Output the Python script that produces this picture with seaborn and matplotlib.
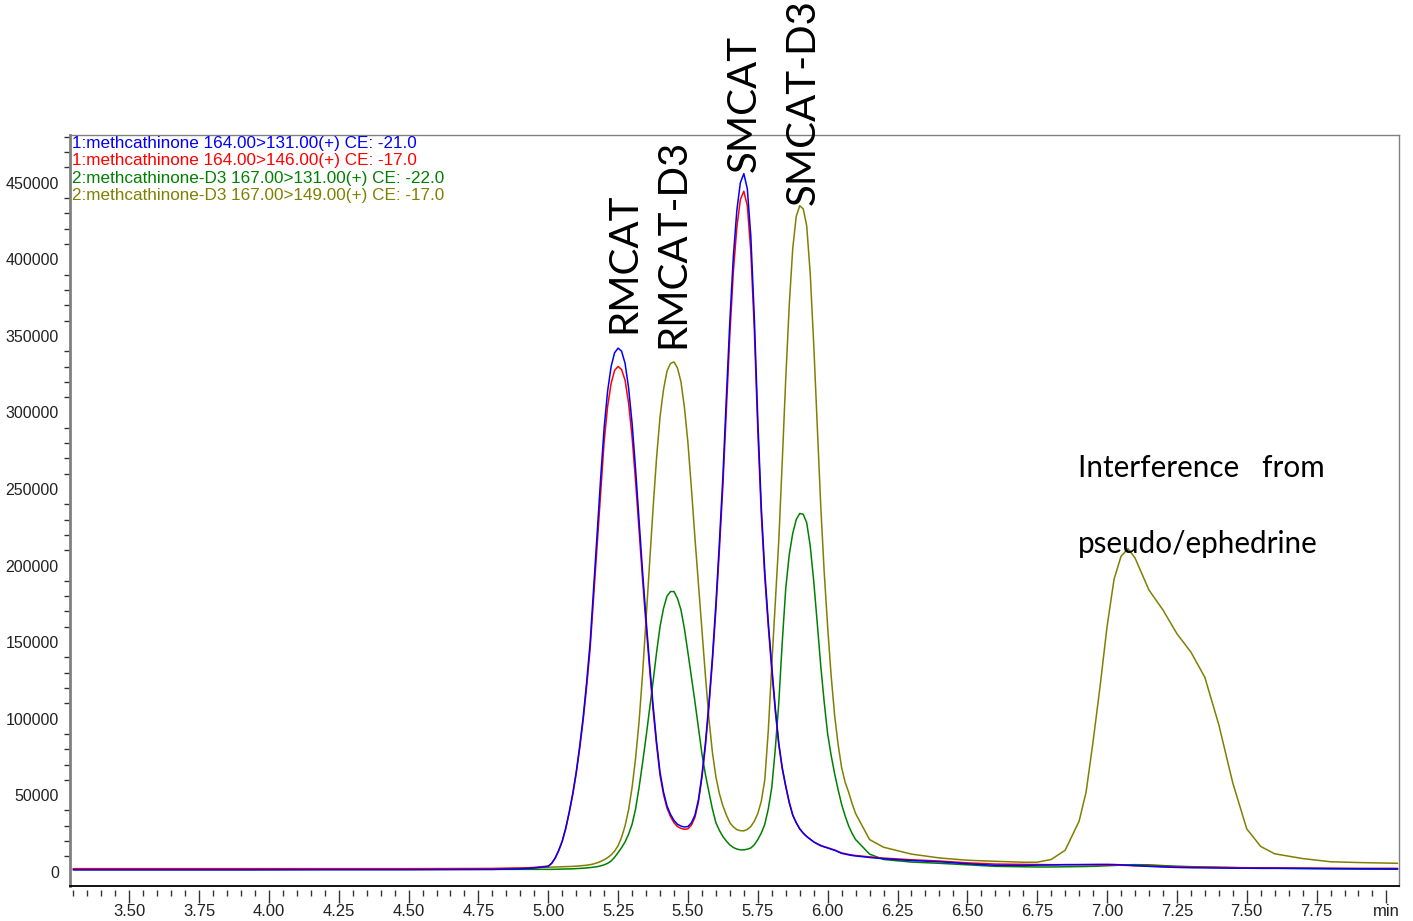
import numpy as np
import pandas as pd
import matplotlib
matplotlib.use('Agg')
import matplotlib.pyplot as plt
import seaborn as sns
from matplotlib.ticker import MultipleLocator, FuncFormatter

# retention time grid (min)
rt = [3.30, 3.60, 3.90, 4.20, 4.50, 4.80, 4.90, 4.95,
      5.0000, 5.0125, 5.0250, 5.0375, 5.0500, 5.0625, 5.0750, 5.0875,
      5.1000, 5.1125, 5.1250, 5.1375, 5.1500, 5.1625, 5.1750, 5.1875,
      5.2000, 5.2125, 5.2250, 5.2375, 5.2500, 5.2625, 5.2750, 5.2875,
      5.3000, 5.3125, 5.3250, 5.3375, 5.3500, 5.3625, 5.3750, 5.3875,
      5.4000, 5.4125, 5.4250, 5.4375, 5.4500, 5.4625, 5.4750, 5.4875,
      5.5000, 5.5125, 5.5250, 5.5375, 5.5500, 5.5625, 5.5750, 5.5875,
      5.6000, 5.6125, 5.6250, 5.6375, 5.6500, 5.6625, 5.6750, 5.6875,
      5.7000, 5.7125, 5.7250, 5.7375, 5.7500, 5.7625, 5.7750, 5.7875,
      5.8000, 5.8125, 5.8250, 5.8375, 5.8500, 5.8625, 5.8750, 5.8875,
      5.9000, 5.9125, 5.9250, 5.9375, 5.9500, 5.9625, 5.9750, 5.9875,
      6.0000, 6.0125, 6.0250, 6.0375, 6.0500, 6.0625, 6.0750, 6.0875,
      6.1000,
      6.150, 6.200, 6.300, 6.400, 6.500, 6.600, 6.700, 6.750, 6.800, 6.850,
      6.900, 6.925, 6.950, 6.975, 7.000, 7.025, 7.050, 7.075, 7.100, 7.150,
      7.200, 7.250, 7.300, 7.350, 7.400, 7.450, 7.500, 7.550, 7.600, 7.700,
      7.800, 7.900, 8.040]

# 1:methcathinone 164.00>131.00
mc_131 = [1200, 1200, 1200, 1300, 1300, 1500, 1900, 2400,
          3500, 5500, 9000, 14000, 20000, 28500, 39000, 51000,
          65000, 82000, 101000, 124000, 150000, 185000, 221000, 257000,
          290000, 314000, 330000, 339000, 342000, 340000, 332000, 316000,
          293000, 263000, 229000, 196000, 165000, 136000, 109000, 85000,
          65000, 52000, 43000, 37500, 33500, 31000, 29800, 29200,
          29500, 32000, 37000, 47000, 63000, 84000, 110000, 140000,
          175000, 215000, 258000, 310000, 360000, 402000, 432000, 450000,
          456000, 446000, 415000, 362000, 295000, 238000, 196000, 163000,
          134000, 107000, 84000, 68000, 56000, 45500, 37000, 32000,
          28000, 25200, 23000, 21200, 19500, 18200, 17000, 16200,
          15500, 14700, 14000, 13000, 12000, 11500, 11000, 10600,
          10300,
          9300, 8500, 7300, 6500, 5200, 4200, 4100, 4300, 4400, 4600,
          4700, 4800, 4800, 4800, 4800, 4700, 4500, 4200, 4000, 3500,
          3100, 2800, 2600, 2500, 2400, 2300, 2300, 2200, 2200, 2100,
          2000, 1900, 1800]

# 1:methcathinone 164.00>146.00
mc_146 = [2000, 2000, 2000, 2000, 2000, 2100, 2400, 2800,
          3700, 5600, 9000, 13800, 19800, 28000, 38500, 50000,
          64000, 80500, 99000, 121000, 146000, 180000, 215000, 249000,
          281000, 304000, 319000, 327500, 330000, 328000, 321000, 306000,
          284000, 255000, 223000, 191000, 161000, 133000, 106000, 83000,
          63000, 50500, 41500, 36000, 32000, 29500, 28300, 27700,
          28000, 30500, 35500, 45500, 61500, 82000, 107500, 137000,
          171000, 210000, 252000, 302000, 351000, 392000, 421000, 439000,
          444500, 435000, 405000, 354000, 288000, 233000, 192000, 160000,
          131500, 105000, 83000, 67000, 55500, 45000, 37000, 32000,
          28000, 25300, 23000, 21300, 19500, 18300, 17200, 16400,
          15700, 14900, 14200, 13200, 12300, 11800, 11300, 10900,
          10600,
          9700, 8900, 7800, 7000, 5800, 5000, 4800, 4700, 4600, 4600,
          4500, 4500, 4500, 4400, 4400, 4300, 4200, 4100, 3900, 3700,
          3400, 3200, 3000, 2900, 2800, 2700, 2600, 2500, 2500, 2400,
          2300, 2200, 2200]

# 2:methcathinone-D3 167.00>131.00
d3_131 = [1400, 1400, 1400, 1500, 1500, 1500, 1500, 1500,
          1500, 1550, 1600, 1650, 1700, 1750, 1800, 1900,
          2000, 2150, 2300, 2500, 2700, 3000, 3300, 3800,
          4500, 5500, 7000, 9400, 12500, 15800, 19500, 24500,
          31000, 41000, 55000, 71000, 88000, 106000, 124000, 143000,
          160000, 172000, 180000, 183000, 183000, 178500, 171000, 158500,
          143000, 127000, 111000, 94000, 77000, 63500, 52000, 41000,
          32000, 27000, 23000, 20000, 17500, 15800, 14800, 14300,
          14300, 14700, 15500, 17600, 21000, 25300, 31000, 41000,
          55000, 80000, 110000, 150000, 185000, 207000, 221000, 230000,
          234000, 233500, 228000, 213000, 190000, 163000, 135000, 111000,
          90000, 76000, 64000, 53500, 44000, 36500, 30000, 25000,
          21000,
          11500, 8000, 6300, 5500, 4500, 3500, 3200, 3100, 3100, 3200,
          3300, 3400, 3500, 3700, 3900, 4100, 4300, 4500, 4600, 4500,
          4000, 3600, 3300, 3100, 2900, 2700, 2500, 2400, 2300, 2100,
          1900, 1800, 1600]

# 2:methcathinone-D3 167.00>149.00
d3_149 = [1800, 1800, 1800, 1800, 1900, 2000, 2300, 2600,
          2900, 2950, 3000, 3100, 3200, 3300, 3400, 3500,
          3600, 3800, 4000, 4250, 4600, 5100, 5800, 6700,
          7800, 9200, 11000, 13500, 17000, 22500, 30000, 40500,
          55000, 74000, 98000, 129000, 165000, 202000, 237000, 270000,
          297000, 315000, 327000, 332000, 333000, 329000, 320000, 303000,
          280000, 250000, 218000, 188000, 158000, 128000, 100000, 78000,
          62000, 51000, 43000, 37000, 32000, 29300, 27500, 26800,
          26700, 27600, 29500, 33000, 38000, 46000, 60000, 92000,
          135000, 175000, 216000, 268000, 322000, 370000, 407000, 428000,
          435000, 433000, 422000, 391000, 345000, 292000, 240000, 196000,
          160000, 128000, 102000, 83000, 68000, 58500, 52000, 44500,
          38000,
          21000, 16000, 11500, 9000, 7500, 6800, 6200, 6200, 8000, 14000,
          33000, 52000, 85000, 121000, 160000, 191000, 206000, 211000, 205000, 184000,
          171000, 155500, 143500, 127000, 96000, 58000, 28000, 16500, 11700, 8600,
          6500, 6000, 5500]

trace_labels = ['1:methcathinone 164.00>131.00(+) CE: -21.0',
                '1:methcathinone 164.00>146.00(+) CE: -17.0',
                '2:methcathinone-D3 167.00>131.00(+) CE: -22.0',
                '2:methcathinone-D3 167.00>149.00(+) CE: -17.0']
trace_colors = ['#0000ff', '#ff0000', '#008000', '#808000']

peak_names = ['RMCAT', 'RMCAT-D3', 'SMCAT', 'SMCAT-D3']
x_ticks = [3.50, 3.75, 4.00, 4.25, 4.50, 4.75, 5.00, 5.25, 5.50, 5.75,
           6.00, 6.25, 6.50, 6.75, 7.00, 7.25, 7.50, 7.75, 8.00]
x_ticklabels = ['%.2f' % v for v in x_ticks[:-1]] + ['min']

df = pd.DataFrame({
    'rt': rt * 4,
    'intensity': mc_131 + mc_146 + d3_131 + d3_149,
    'trace': sum([[lab] * len(rt) for lab in trace_labels], []),
})

sns.set_style('white')
plt.rcParams['font.family'] = ['Liberation Sans', 'DejaVu Sans']

fig = plt.figure(figsize=(14.13, 9.21), dpi=100)
ax = fig.add_axes([0.0495, 0.0383, 0.9406, 0.8151])

# draw order: olive, green, red, blue (blue on top)
palette = dict(zip(trace_labels, trace_colors))
sns.lineplot(data=df, x='rt', y='intensity', hue='trace', palette=palette,
             hue_order=trace_labels[::-1], linewidth=1.1, legend=False, ax=ax)

ax.set_xlim(3.288, 8.045)
ax.set_ylim(-9150, 481200)
ax.set_xlabel('')
ax.set_ylabel('')

# y axis
ax.yaxis.set_major_locator(MultipleLocator(50000))
ax.yaxis.set_minor_locator(MultipleLocator(10000))
ax.yaxis.set_major_formatter(FuncFormatter(lambda v, p: '%d' % v))
ax.tick_params(axis='y', which='major', direction='out', length=7, width=1,
               color='#333333', labelsize=11.5, pad=1, labelcolor='#222222')
ax.tick_params(axis='y', which='minor', direction='out', length=4, width=1,
               color='#333333', left=True)

# x ticks sit a little below the frame
ax.tick_params(axis='x', which='both', bottom=False, labelbottom=False)
sec = ax.secondary_xaxis(-0.0055)
sec.spines['bottom'].set_visible(False)
sec.set_xticks(x_ticks)
sec.set_xticklabels(x_ticklabels)
sec.xaxis.set_minor_locator(MultipleLocator(0.05))
sec.tick_params(axis='x', which='major', direction='out', length=9, width=1,
                color='#333333', labelsize=12, pad=1, labelcolor='#222222')
sec.tick_params(axis='x', which='minor', direction='out', length=4, width=1,
                color='#333333')

for side in ['top', 'right']:
    ax.spines[side].set_color('#808080')
    ax.spines[side].set_linewidth(1.0)
ax.spines['left'].set_color('#808080')
ax.spines['left'].set_linewidth(2.0)
ax.spines['bottom'].set_color('#000000')
ax.spines['bottom'].set_linewidth(1.3)

# channel labels, top-left
for i, (lab, col) in enumerate(zip(trace_labels, trace_colors)):
    ax.text(0.0015, 0.9887 - i * 0.0233, lab, color=col, fontsize=12.3,
            ha='left', va='center', transform=ax.transAxes)

# peak annotations
peak_pos = [(5.270, 351700), (5.447, 341900), (5.700, 457000), (5.912, 435500)]
for name, (px, py) in zip(peak_names, peak_pos):
    ax.text(px, py, name, rotation=90, ha='center', va='bottom',
            fontsize=29, family=['Lato', 'DejaVu Sans'], color='black')

ax.text(6.896, 258000, 'Interference   from', ha='left', va='baseline',
        fontsize=21.3, family=['Lato', 'DejaVu Sans'], color='black')
ax.text(6.896, 208000, 'pseudo/ephedrine', ha='left', va='baseline',
        fontsize=21.3, family=['Lato', 'DejaVu Sans'], color='black')

fig.savefig('out.png', dpi=100)
